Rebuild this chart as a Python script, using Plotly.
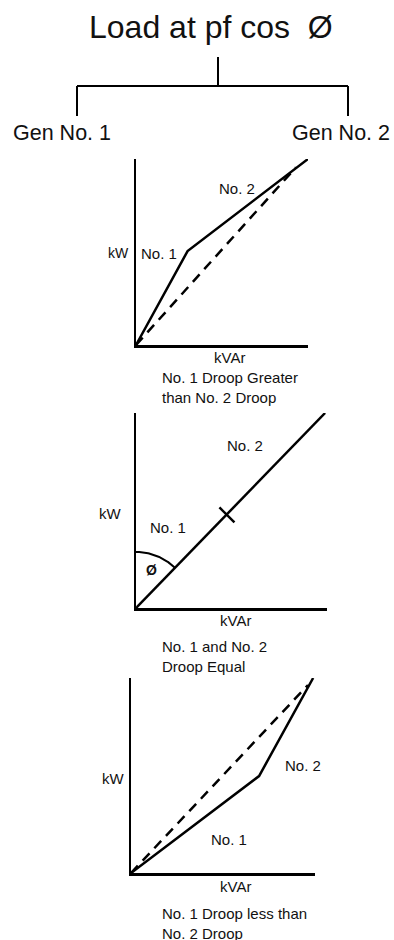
import numpy as np
import plotly.graph_objects as go

W, H = 394, 940
FONT = "Liberation Sans, Arial, sans-serif"

# ---- data (chart-local units: fraction of axis length) ----
# Chart 1: No. 1 droop greater than No. 2 droop
c1_solid_kvar = [0.0, 0.30, 1.0]
c1_solid_kw = [0.0, 0.505, 1.0]
c1_dash_kvar = [0.0, 0.93]
c1_dash_kw = [0.0, 0.955]

# Chart 2: droop equal
c2_line_kvar = [0.0, 0.99]
c2_line_kw = [0.0, 1.0]
c2_split_kvar = [0.476]
c2_split_kw = [0.477]

# Chart 3: No. 1 droop less than No. 2 droop
c3_solid_kvar = [0.0, 0.696, 0.99]
c3_solid_kw = [0.0, 0.497, 1.0]
c3_dash_kvar = [0.0, 0.962]
c3_dash_kw = [0.0, 0.964]

# tree diagram (page pixel units)
tree_x = [218, 218, None, 77, 348, None, 77, 77, None, 348, 348]
tree_y = [57, 86, None, 86, 86, None, 86, 116, None, 86, 116]

# ---- subplot boxes in page pixels: (left, right, top, bottom) ----
boxes = [(136, 308, 159, 345), (136, 327, 413, 608), (131, 315, 678, 873)]

fig = go.Figure()

layout = dict(
    width=W, height=H, margin=dict(l=0, r=0, t=0, b=0),
    paper_bgcolor="white", plot_bgcolor="rgba(0,0,0,0)",
    showlegend=False,
    xaxis=dict(domain=[0, 1], range=[0, W], visible=False, fixedrange=True),
    yaxis=dict(domain=[0, 1], range=[H, 0], visible=False, fixedrange=True),
)

for i, (l, r, t, b) in enumerate(boxes, start=2):
    layout[f"xaxis{i}"] = dict(
        domain=[l / W, r / W], range=[0, 1], anchor=f"y{i}",
        showline=True, linecolor="black", linewidth=2.5,
        showgrid=False, zeroline=False, showticklabels=False, ticks="",
        fixedrange=True,
    )
    layout[f"yaxis{i}"] = dict(
        domain=[1 - b / H, 1 - t / H], range=[0, 1], anchor=f"x{i}",
        showline=True, linecolor="black", linewidth=2.5,
        showgrid=False, zeroline=False, showticklabels=False, ticks="",
        fixedrange=True,
    )

# tree
fig.add_trace(go.Scatter(x=tree_x, y=tree_y, mode="lines",
                         line=dict(color="black", width=2), xaxis="x", yaxis="y",
                         hoverinfo="skip"))

solid = dict(color="black", width=2.5)
dashed = dict(color="black", width=2.5, dash="10px,7px")

# chart 1
fig.add_trace(go.Scatter(x=c1_solid_kvar, y=c1_solid_kw, mode="lines", line=solid,
                         xaxis="x2", yaxis="y2"))
fig.add_trace(go.Scatter(x=c1_dash_kvar, y=c1_dash_kw, mode="lines", line=dashed,
                         xaxis="x2", yaxis="y2"))

# chart 2
fig.add_trace(go.Scatter(x=c2_line_kvar, y=c2_line_kw, mode="lines", line=solid,
                         xaxis="x3", yaxis="y3"))
fig.add_trace(go.Scatter(x=c2_split_kvar, y=c2_split_kw, mode="markers",
                         marker=dict(symbol="line-nw", size=15,
                                     line=dict(color="black", width=2.5)),
                         xaxis="x3", yaxis="y3"))
# angle arc (radius in pixels, converted to axis units)
l2, r2, t2, b2 = boxes[1]
sx, sy = (r2 - l2), (b2 - t2)
ang_line = np.arctan2(c2_line_kw[1] * sy, c2_line_kvar[1] * sx)
theta = np.linspace(ang_line, np.pi / 2, 40)
rad = 56
fig.add_trace(go.Scatter(x=rad * np.cos(theta) / sx, y=rad * np.sin(theta) / sy,
                         mode="lines", line=dict(color="black", width=2),
                         xaxis="x3", yaxis="y3"))

# chart 3
fig.add_trace(go.Scatter(x=c3_solid_kvar, y=c3_solid_kw, mode="lines", line=solid,
                         xaxis="x4", yaxis="y4"))
fig.add_trace(go.Scatter(x=c3_dash_kvar, y=c3_dash_kw, mode="lines", line=dashed,
                         xaxis="x4", yaxis="y4"))

fig.update_layout(**layout)

def label(text, x, y, size=15, xanchor="center", align="center"):
    fig.add_annotation(text=text, x=x, y=y, xref="x", yref="y", showarrow=False,
                       xanchor=xanchor, yanchor="middle", align=align,
                       font=dict(family=FONT, size=size, color="#111"))

label("Load at pf cos\u00a0\u00a0Ø", 211, 27, size=32)
label("Gen No. 1", 62, 133, size=21.5)
label("Gen No. 2", 341, 133, size=21.5)

# chart 1 labels
label("kW", 118, 253, size=14)
label("No. 1", 159, 253)
label("No. 2", 237, 188)
label("kVAr", 229, 357)
label("No. 1 Droop Greater<br>than No. 2 Droop", 160, 387, xanchor="left", align="left")

# chart 2 labels
label("kW", 110, 513)
label("No. 1", 168, 527)
label("No. 2", 245, 445)
label("<b>Ø</b>", 151, 570, size=14)
label("kVAr", 235, 620)
label("No. 1 and No. 2<br>Droop Equal", 160, 656, xanchor="left", align="left")

# chart 3 labels
label("kW", 113, 778)
label("No. 2", 303, 765)
label("No. 1", 229, 839)
label("kVAr", 235, 886)
label("No. 1 Droop less than<br>No. 2 Droop", 160, 923, xanchor="left", align="left")

fig.write_html("out.html", config={"displayModeBar": False, "staticPlot": True},
               post_script="document.body.style.margin='0';document.body.style.overflow='hidden';")
